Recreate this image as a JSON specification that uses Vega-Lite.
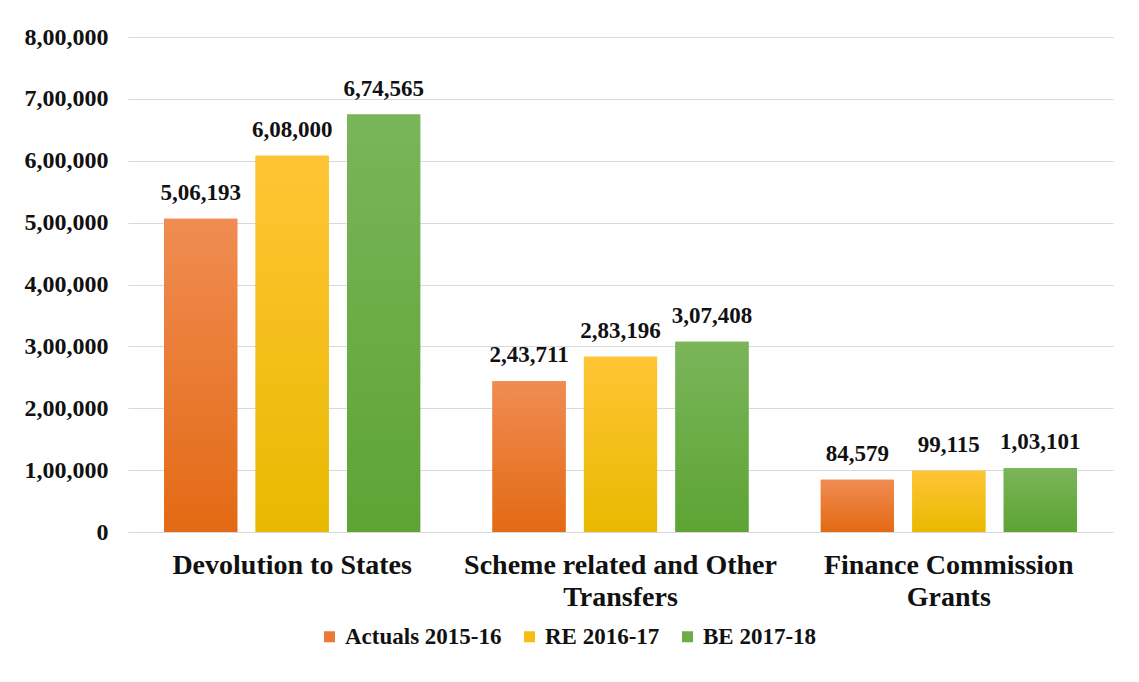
{
  "$schema": "https://vega.github.io/schema/vega-lite/v6.json",
  "autosize": "none",
  "width": 985,
  "height": 495,
  "padding": {"left": 128, "top": 37, "right": 26, "bottom": 150},
  "background": "white",
  "data": {
    "values": [
      {"category": "Devolution to States", "series": "Actuals 2015-16", "value": 506193},
      {"category": "Devolution to States", "series": "RE 2016-17", "value": 608000},
      {"category": "Devolution to States", "series": "BE 2017-18", "value": 674565},
      {"category": "Scheme related and Other Transfers", "series": "Actuals 2015-16", "value": 243711},
      {"category": "Scheme related and Other Transfers", "series": "RE 2016-17", "value": 283196},
      {"category": "Scheme related and Other Transfers", "series": "BE 2017-18", "value": 307408},
      {"category": "Finance Commission Grants", "series": "Actuals 2015-16", "value": 84579},
      {"category": "Finance Commission Grants", "series": "RE 2016-17", "value": 99115},
      {"category": "Finance Commission Grants", "series": "BE 2017-18", "value": 103101}
    ]
  },
  "encoding": {
    "x": {
      "field": "category", "type": "nominal", "sort": null,
      "scale": {"paddingInner": 0.22, "paddingOuter": 0.11},
      "axis": {
        "title": null, "labelAngle": 0, "domain": false, "ticks": false, "labelLimit": 0,
        "labelFont": "Liberation Serif", "labelFontWeight": "bold", "labelFontSize": 28,
        "labelColor": "#111111", "labelPadding": 19, "labelLineHeight": 32, "labelBaseline": "top",
        "labelExpr": "datum.value == 'Scheme related and Other Transfers' ? ['Scheme related and Other', 'Transfers'] : datum.value == 'Finance Commission Grants' ? ['Finance Commission', 'Grants'] : datum.value"
      }
    },
    "xOffset": {
      "field": "series", "type": "nominal", "sort": ["Actuals 2015-16", "RE 2016-17", "BE 2017-18"],
      "scale": {"paddingInner": 0.2, "paddingOuter": 0}
    },
    "y": {
      "field": "value", "type": "quantitative",
      "scale": {"domain": [0, 800000]},
      "axis": {
        "title": null, "domain": false, "ticks": false, "values": [0, 100000, 200000, 300000, 400000, 500000, 600000, 700000, 800000],
        "gridColor": "#d9d9d9", "gridWidth": 1,
        "labelFont": "Liberation Serif", "labelFontWeight": "bold", "labelFontSize": 24,
        "labelColor": "#111111", "labelPadding": 20,
        "labelExpr": "datum.value == 0 ? '0' : replace(slice(format(datum.value, 'd'), 0, -3), regexp('\\\\B(?=(\\\\d{2})+(?!\\\\d))', 'g'), ',') + ',' + slice(format(datum.value, 'd'), -3)"
      }
    }
  },
  "layer": [
    {
      "mark": {"type": "bar"},
      "encoding": {
        "color": {
          "field": "series", "type": "nominal", "sort": ["Actuals 2015-16", "RE 2016-17", "BE 2017-18"],
          "scale": {"domain": ["Actuals 2015-16", "RE 2016-17", "BE 2017-18"], "range": ["#EA7A35", "#F6BE12", "#6CAE45"]},
          "legend": {
            "title": null, "orient": "none", "direction": "horizontal", "legendX": 190, "legendY": 588,
            "symbolType": "square", "symbolSize": 121, "symbolStrokeWidth": 0,
            "labelFont": "Liberation Serif", "labelFontWeight": "bold", "labelFontSize": 23,
            "labelColor": "#111111", "columnPadding": 16, "labelOffset": 4
          }
        }
      }
    },
    {
      "mark": {"type": "bar"},
      "encoding": {
        "fill": {
          "condition": [
            {"test": "datum.series == 'Actuals 2015-16'", "value": {"gradient": "linear", "x1": 0, "y1": 0, "x2": 0, "y2": 1, "stops": [{"offset": 0, "color": "#F08C52"}, {"offset": 1, "color": "#E36A14"}]}},
            {"test": "datum.series == 'RE 2016-17'", "value": {"gradient": "linear", "x1": 0, "y1": 0, "x2": 0, "y2": 1, "stops": [{"offset": 0, "color": "#FFC535"}, {"offset": 1, "color": "#E8B900"}]}}
          ],
          "value": {"gradient": "linear", "x1": 0, "y1": 0, "x2": 0, "y2": 1, "stops": [{"offset": 0, "color": "#7AB55A"}, {"offset": 1, "color": "#5DA434"}]}
        }
      }
    },
    {
      "mark": {"type": "text", "baseline": "bottom", "dy": -14, "font": "Liberation Serif", "fontWeight": "bold", "fontSize": 23, "color": "#111111"},
      "encoding": {
        "text": {"field": "label"}
      },
      "transform": [
        {"calculate": "length(format(datum.value,'d')) > 3 ? replace(slice(format(datum.value, 'd'), 0, -3), regexp('\\\\B(?=(\\\\d{2})+(?!\\\\d))', 'g'), ',') + ',' + slice(format(datum.value, 'd'), -3) : format(datum.value,'d')", "as": "label"}
      ]
    }
  ],
  "config": {"view": {"stroke": null}}
}
